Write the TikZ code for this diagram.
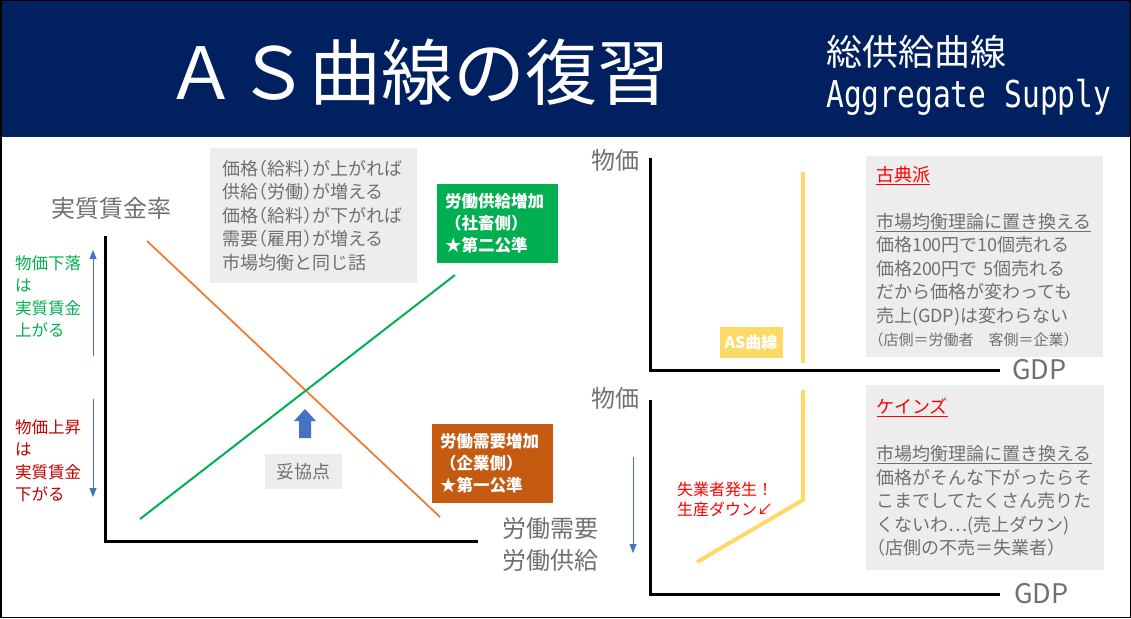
\documentclass[tikz,border=0pt]{standalone}
\usepackage{fontspec}
\setmainfont{Noto Sans CJK JP}
\newfontfamily\condmono[FakeStretch=0.8]{DejaVu Sans Mono}
\usepackage{tikz}
\usetikzlibrary{arrows.meta, positioning}

\begin{document}
\begin{tikzpicture}[x=1pt, y=-1pt, >={Triangle[width=7pt, length=9pt]},
    every node/.style={inner sep=0pt, align=left},
    axis/.style={line width=3pt, black},
    ascurve/.style={line width=4pt, asyellow, line join=round},
    notebox/.style={fill=notebg, text=txtgray,
      font=\fontsize{18}{23.5}\selectfont\addfontfeature{CharacterWidth=AlternateHalf}},
    tagbox/.style={text=white, font=\bfseries\fontsize{16.5}{22}\selectfont,
      minimum width=121, minimum height=79, text width=104},
    axislbl/.style={text=txtgray, font=\fontsize{24}{32}\selectfont},
    hint/.style={->, thin, hintblue}]
      \definecolor{titlebg}{HTML}{002060} \definecolor{notebg}{HTML}{EDEDED}
      \definecolor{txtgray}{HTML}{707070} \definecolor{hintblue}{HTML}{4472C4}
      \definecolor{demandc}{HTML}{ED7D31} \definecolor{supplyc}{HTML}{00B050}
      \definecolor{firmc}{HTML}{C55A11} \definecolor{asyellow}{HTML}{FFD966}
      \definecolor{warnred}{HTML}{C00000} \definecolor{schoolred}{HTML}{FF0000}
      \useasboundingbox (0,0) rectangle (1131,618);

      % header
      \fill[titlebg] (0,0) rectangle (1131,137);
      \node[text=white, font=\fontsize{72}{74}\selectfont] (title) at (417,72) {ＡＳ曲線の復習};
      \node[text=white, anchor=west, font=\fontsize{36}{38}\selectfont] (subjp) at (826,52) {総供給曲線};
      \node[text=white, anchor=base west, font=\condmono\fontsize{37}{39}\selectfont] (suben) at (826,107) {Aggregate Supply};
      \draw[black, line width=1.5pt] (0.75,0.75) rectangle (1130.25,617.25);

      % labour market
      \coordinate (ltop) at (105,236); \coordinate (lorig) at (105,541); \coordinate (lend) at (478,541);
      \draw[axis] (ltop) -- (lorig) -- (lend);
      \coordinate (dstart) at (147,241); \coordinate (dend) at (440,517);
      \coordinate (sstart) at (140,519); \coordinate (send) at (455,275);
      \draw[demandc, line width=1.8pt] (dstart) -- (dend);
      \draw[supplyc, line width=2pt] (sstart) -- (send);
      \fill[hintblue] (305,409) -- (316,421) -- (311,421) -- (311,438) -- (299,438) -- (299,421) -- (294,421) -- cycle;
      \node[notebox, minimum width=77, minimum height=35] (compromise) at (303.5,471.5) {妥協点};
      \node[notebox, minimum width=207, minimum height=135, text width=183] (rule) at (313.5,215.5)
        {価格（給料）が上がれば\\供給（労働）が増える\\価格（給料）が下がれば\\需要（雇用）が増える\\市場均衡と同じ話};
      \node[tagbox, fill=supplyc] (labsupply) at (497,223) {労働供給増加\\（社畜側）\\★第二公準};
      \node[tagbox, fill=firmc] (labdemand) at (492,463) {労働需要増加\\（企業側）\\★第一公準};
      \node[axislbl] (wage) at (111,208) {実質賃金率};
      \node[axislbl, anchor=west] (qty) at (502,544) {労働需要\\労働供給};
      \node[anchor=west, text=supplyc, font=\fontsize{16.5}{22.5}\selectfont] (fall) at (15,296.5) {物価下落\\は\\実質賃金\\上がる};
      \node[anchor=west, text=warnred, font=\fontsize{16.5}{22.5}\selectfont] (rise) at (15,460.5) {物価上昇\\は\\実質賃金\\下がる};
      \coordinate (upa) at (93,356); \coordinate (upb) at (93,250);
      \coordinate (dna) at (93,399); \coordinate (dnb) at (93,497);
      \draw[hint] (upa) -- (upb);
      \draw[hint] (dna) -- (dnb);

      % classical AS
      \coordinate (ctop) at (650,158); \coordinate (corig) at (650,370); \coordinate (cend) at (1000,370);
      \draw[axis] (ctop) -- (corig) -- (cend);
      \node[axislbl] (cprice) at (615,160) {物価};
      \node[axislbl, anchor=west, font=\fontsize{27}{30}\selectfont] (cgdp) at (1012,370) {GDP};
      \coordinate (cas1) at (803,172); \coordinate (cas2) at (803,363);
      \draw[ascurve] (cas1) -- (cas2);
      \node[fill=asyellow, text=white, font=\bfseries\fontsize{16}{18}\selectfont, minimum width=63, minimum height=31] (aslbl) at (751,342) {AS曲線};
      \node[notebox, minimum width=237, minimum height=201, text width=217] (classic) at (984.5,256.5)
        {\textcolor{schoolred}{\underline{古典派}}\\[23.5pt]
         \underline{市場均衡理論に置き換える}\\価格100円で10個売れる\\価格200円で 5個売れる\\だから価格が変わっても\\売上(GDP)は変わらない\\
         {\fontsize{15}{23.5}\selectfont（店側＝労働者　客側＝企業）}};

      % keynesian AS
      \coordinate (ktop) at (650,400); \coordinate (korig) at (650,594); \coordinate (kend) at (1000,594);
      \draw[axis] (ktop) -- (korig) -- (kend);
      \node[axislbl] (kprice) at (615,398) {物価};
      \node[axislbl, anchor=west, font=\fontsize{27}{30}\selectfont] (kgdp) at (1014,594) {GDP};
      \coordinate (kas1) at (697,562); \coordinate (kas2) at (803,500); \coordinate (kas3) at (803,390);
      \draw[ascurve] (kas1) -- (kas2) -- (kas3);
      \node[anchor=west, text=schoolred, font=\fontsize{16}{19.5}\selectfont] (jobless) at (677,499.5) {失業者発生！\\生産ダウン↙};
      \coordinate (kdna) at (633,457); \coordinate (kdnb) at (633,553);
      \draw[hint] (kdna) -- (kdnb);
      \node[notebox, minimum width=238, minimum height=185, text width=217] (keynes) at (985,477.5)
        {\textcolor{schoolred}{\underline{ケインズ}}\\[23.5pt]
         \underline{市場均衡理論に置き換える}\\価格がそんな下がったらそ\\こまでしてたくさん売りた\\くないわ…(売上ダウン)\\（店側の不売＝失業者）};
    \end{tikzpicture}
\end{document}
